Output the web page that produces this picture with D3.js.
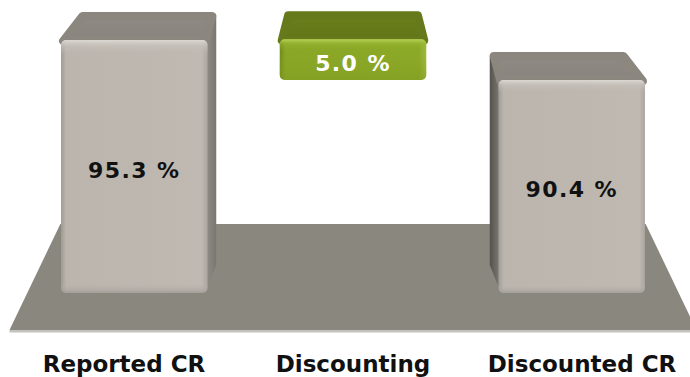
<!DOCTYPE html>
<html><head><meta charset="utf-8">
<script src="https://cdn.jsdelivr.net/npm/d3@7"></script>
<style>html,body{margin:0;padding:0;background:#fff}svg{display:block}</style>
</head><body>
<svg id="chart" width="690" height="377"></svg>
<script>
// ---- data ----
const categories = ["Reported CR", "Discounting", "Discounted CR"];
const reportedCR = 95.3;
const discountingEffect = 5.0;
const discountedCR = 90.4;
const valueLabels = ["95.3 %", "5.0 %", "90.4 %"];
const axisDomain = [64.3, 95.3];   // truncated value axis (no ticks shown)

// waterfall bars built from the values
const barLow  = [axisDomain[0], discountedCR, axisDomain[0]];
const barHigh = [reportedCR, discountedCR + discountingEffect, discountedCR];
const barKind = ["total", "delta", "total"];

// ---- layout ----
const svg = d3.select("#chart");
const x = d3.scaleBand().domain(categories).range([9.5, 696.5]).paddingInner(0.33).paddingOuter(0.165);
const y = d3.scaleLinear().domain(axisDomain).range([293, 40]);
const CX = 353;                    // perspective centre
const sFront = 0.955, sBack = 0.898, depthDy = 28;
const proj = (px, s) => CX + (px - CX) * s;

const defs = svg.append("defs");
function lin(id, x1, y1, x2, y2, stops) {
  const g = defs.append("linearGradient").attr("id", id)
    .attr("x1", x1).attr("y1", y1).attr("x2", x2).attr("y2", y2);
  stops.forEach(s => g.append("stop").attr("offset", s[0]).attr("stop-color", s[1]).attr("stop-opacity", s[2] == null ? 1 : s[2]));
}
lin("grayFrontH", 0, 0, 1, 0, [[0, "#9f9a94"], [0.035, "#bbb5ae"], [0.5, "#bdb7b0"], [0.96, "#bfb9b2"], [1, "#aaa59f"]]);
lin("grayFrontV", 0, 0, 0, 1, [[0, "#dcd8d2", 1], [0.025, "#c8c3bc", 0.6], [0.06, "#bdb7b0", 0], [0.96, "#bdb7b0", 0], [1, "#9e9993", 0.8]]);
lin("grayTop", 0, 0, 0, 1, [[0, "#8e8a83"], [0.8, "#8a867f"], [1, "#aaa59e"]]);
lin("graySideR", 0, 0, 1, 0, [[0, "#8f8b85"], [1, "#7a7670"]]);
lin("graySideL", 0, 0, 1, 0, [[0, "#55524d"], [1, "#7c7872"]]);
lin("greenFrontH", 0, 0, 1, 0, [[0, "#6f8a1c"], [0.04, "#8aa626"], [0.95, "#8ca827"], [1, "#9fbb3c"]]);
lin("greenFrontV", 0, 0, 0, 1, [[0, "#b9d45a", 1], [0.12, "#9ab834", 0.5], [0.3, "#8ca827", 0], [1, "#7f9a20", 0.5]]);
lin("greenTop", 0, 0, 0, 1, [[0, "#6a7e1c"], [0.85, "#637719"], [1, "#7d9628"]]);

// ---- floor ----
const r0 = x.range()[0], r1 = x.range()[1];
const floorBackY = 224, floorFrontY = 330, sFloorBack = 0.852;
svg.append("polygon")
  .attr("points", [[proj(r0, sFloorBack), floorBackY], [proj(r1, sFloorBack), floorBackY],
                   [proj(r1, 1), floorFrontY], [proj(r0, 1), floorFrontY]].map(p => p.join(",")).join(" "))
  .attr("fill", "#8a877f");
svg.append("rect").attr("x", proj(r0, 1)).attr("y", floorFrontY)
  .attr("width", proj(r1, 1) - proj(r0, 1)).attr("height", 2.5).attr("fill", "#c4c3c0");

// ---- bars ----
const bars = categories.map((c, i) => {
  const xc = x(c) + x.bandwidth() / 2, h = x.bandwidth() / 2;
  return {
    c, i, kind: barKind[i],
    fl: proj(xc - h, sFront), fr: proj(xc + h, sFront),
    bl: proj(xc - h, sBack), br: proj(xc + h, sBack),
    yt: y(barHigh[i]), yb: y(barLow[i])
  };
});

const g = svg.append("g");
bars.forEach(b => {
  const isG = b.kind === "delta";
  const bg = g.append("g");
  if (b.br > b.fr + 0.5) {
    bg.append("polygon").attr("points", [[b.fr - 1, b.yt], [b.br, b.yt - depthDy + 3], [b.br, b.yb - depthDy], [b.fr - 1, b.yb - 4]].map(p => p.join(",")).join(" "))
      .attr("fill", isG ? "#7d9628" : "url(#graySideR)");
  }
  if (b.bl < b.fl - 0.5) {
    bg.append("polygon").attr("points", [[b.fl + 1, b.yt], [b.bl, b.yt - depthDy + 3], [b.bl, b.yb - depthDy], [b.fl + 1, b.yb - 4]].map(p => p.join(",")).join(" "))
      .attr("fill", isG ? "#5f7318" : "url(#graySideL)");
  }
  bg.append("polygon")
    .attr("points", [[b.fl + 2, b.yt + 1], [b.fr - 2, b.yt + 1], [b.br - 4, b.yt - depthDy + 4], [b.bl + 4, b.yt - depthDy + 4]].map(p => p.join(",")).join(" "))
    .attr("fill", isG ? "url(#greenTop)" : "url(#grayTop)")
    .attr("stroke", isG ? "#667a1b" : "#8b877f").attr("stroke-width", 8).attr("stroke-linejoin", "round");
  bg.append("rect").attr("x", b.fl).attr("y", b.yt).attr("width", b.fr - b.fl).attr("height", b.yb - b.yt)
    .attr("rx", 5).attr("fill", isG ? "url(#greenFrontH)" : "url(#grayFrontH)");
  bg.append("rect").attr("x", b.fl).attr("y", b.yt).attr("width", b.fr - b.fl).attr("height", b.yb - b.yt)
    .attr("rx", 5).attr("fill", isG ? "url(#greenFrontV)" : "url(#grayFrontV)");
  bg.append("text")
    .attr("x", (b.fl + b.fr) / 2).attr("y", (b.yt + b.yb) / 2 + 11)
    .attr("text-anchor", "middle")
    .attr("font-family", "'DejaVu Sans', Verdana, sans-serif").attr("font-weight", "bold")
    .attr("font-size", 22).attr("letter-spacing", 1.4)
    .attr("fill", isG ? "#ffffff" : "#111111")
    .text(valueLabels[b.i]);
});

// ---- category labels ----
svg.append("g").selectAll("text").data(categories).join("text")
  .attr("x", d => x(d) + x.bandwidth() / 2).attr("y", 372)
  .attr("text-anchor", "middle")
  .attr("font-family", "'DejaVu Sans', Verdana, sans-serif").attr("font-weight", "bold")
  .attr("font-size", 23).attr("fill", "#111111")
  .text(d => d);
</script>
</body></html>
